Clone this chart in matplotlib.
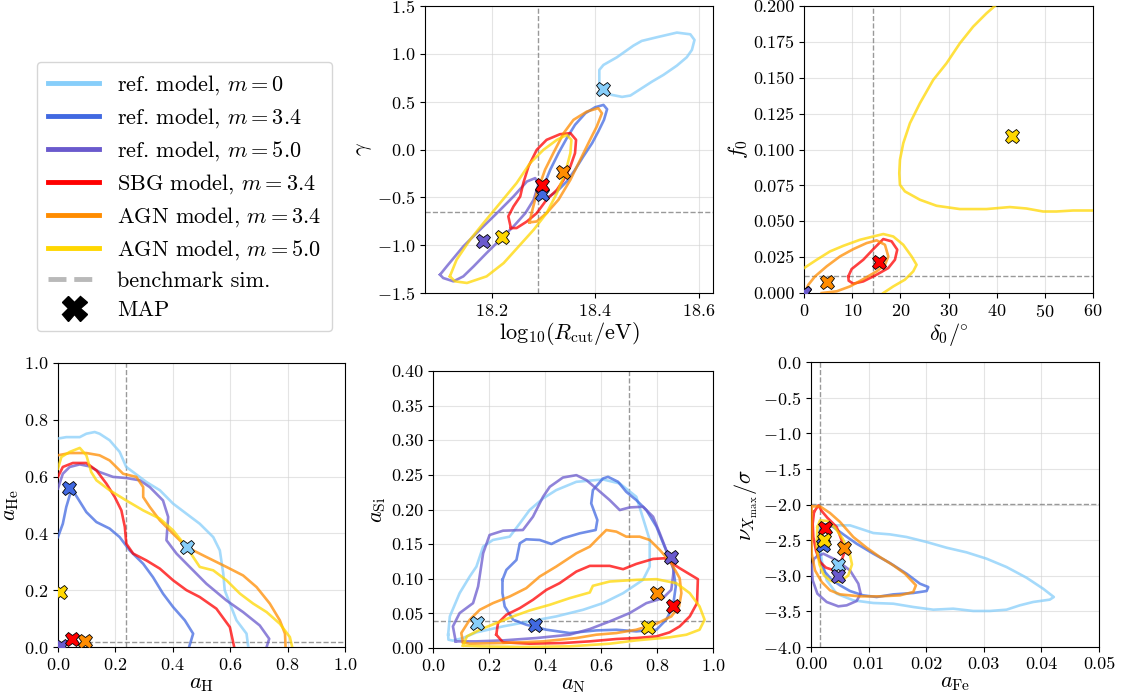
import numpy as np
import matplotlib
matplotlib.use("Agg")
from matplotlib import pyplot as plt
from matplotlib.lines import Line2D

plt.rcParams['font.family'] = 'serif'
plt.rcParams['font.serif'] = ['cmr10']
plt.rcParams['mathtext.fontset'] = 'cm'
plt.rcParams['axes.formatter.use_mathtext'] = True
plt.rcParams['xtick.labelsize'] = 13
plt.rcParams['ytick.labelsize'] = 13
plt.rcParams['axes.labelsize'] = 16

# series: ref m=0, ref m=3.4, ref m=5.0, SBG m=3.4, AGN m=3.4, AGN m=5.0
labels = ["ref. model, $m = 0$", "ref. model, $m = 3.4$", "ref. model, $m = 5.0$",
          "SBG model, $m = 3.4$", "AGN model, $m = 3.4$", "AGN model, $m = 5.0$"]
colors = ["lightskyblue", "royalblue", "slateblue", "red", "darkorange", "gold"]

# benchmark simulation values
bench_rcut, bench_gamma = 18.290, -0.654
bench_delta, bench_f0 = 14.24, 0.0118
bench_aH, bench_aHe = 0.238, 0.0176
bench_aN, bench_aSi = 0.700, 0.0394
bench_aFe, bench_nu = 0.00156, -1.988

# MAP points (same series order)
map_rcut = [18.416, 18.297, 18.184, 18.298, 18.337, 18.220]
map_gamma = [0.630, -0.466, -0.957, -0.376, -0.237, -0.919]
map_delta = [0.0, 0.0, 0.0, 15.48, 4.70, 43.13]
map_f0 = [0.0, 0.0, 0.0, 0.0216, 0.0079, 0.1097]
map_aH = [0.451, 0.037, 0.010, 0.050, 0.093, 0.006]
map_aHe = [0.352, 0.561, 0.005, 0.027, 0.020, 0.194]
map_aN = [0.157, 0.363, 0.851, 0.857, 0.800, 0.769]
map_aSi = [0.036, 0.0336, 0.131, 0.061, 0.0792, 0.030]
map_aFe = [0.00474, 0.00202, 0.00474, 0.00243, 0.00578, 0.00225]
map_nu = [-2.854, -2.573, -3.003, -2.330, -2.610, -2.503]

# 68% contours, log10(Rcut) vs gamma
rg_ref0 = [(18.416, 0.606), (18.408, 0.675), (18.408, 0.832), (18.416, 0.884), (18.442, 0.964),
           (18.474, 1.086), (18.490, 1.135), (18.519, 1.173), (18.558, 1.222), (18.584, 1.204),
           (18.592, 1.145), (18.587, 1.041), (18.577, 0.964), (18.558, 0.877), (18.532, 0.780),
           (18.510, 0.710), (18.487, 0.630), (18.468, 0.564), (18.452, 0.550), (18.432, 0.571)]
rg_ref34 = [(18.294, -0.491), (18.300, -0.386), (18.313, -0.212), (18.329, -0.038), (18.345, 0.118),
            (18.361, 0.258), (18.381, 0.379), (18.400, 0.442), (18.416, 0.466), (18.423, 0.421),
            (18.417, 0.310), (18.406, 0.188), (18.394, 0.066), (18.377, -0.073), (18.361, -0.212),
            (18.345, -0.334), (18.326, -0.438), (18.306, -0.508)]
rg_ref50 = [(18.100, -1.308), (18.113, -1.221), (18.145, -1.013), (18.177, -0.839), (18.210, -0.665),
            (18.242, -0.491), (18.268, -0.334), (18.284, -0.299), (18.290, -0.369), (18.281, -0.525),
            (18.265, -0.665), (18.242, -0.804), (18.216, -0.943), (18.190, -1.082), (18.165, -1.221),
            (18.145, -1.326), (18.126, -1.378), (18.106, -1.343)]
rg_sbg = [(18.237, -0.821), (18.232, -0.699), (18.242, -0.595), (18.255, -0.491), (18.261, -0.351),
          (18.271, -0.177), (18.287, -0.003), (18.306, 0.101), (18.332, 0.160), (18.352, 0.171),
          (18.363, 0.101), (18.361, -0.038), (18.352, -0.177), (18.339, -0.317), (18.326, -0.421),
          (18.306, -0.525), (18.287, -0.665), (18.268, -0.752), (18.248, -0.821)]
rg_agn34 = [(18.273, -0.762), (18.277, -0.665), (18.287, -0.456), (18.303, -0.212), (18.319, -0.038),
            (18.339, 0.171), (18.358, 0.310), (18.384, 0.397), (18.406, 0.432), (18.413, 0.379),
            (18.403, 0.240), (18.390, 0.101), (18.371, -0.108), (18.352, -0.317), (18.329, -0.525),
            (18.306, -0.665), (18.287, -0.752)]
rg_agn50 = [(18.119, -1.326), (18.132, -1.152), (18.158, -0.943), (18.184, -0.769), (18.216, -0.560),
            (18.248, -0.351), (18.274, -0.143), (18.300, -0.003), (18.326, 0.101), (18.345, 0.153),
            (18.354, 0.101), (18.352, -0.038), (18.342, -0.247), (18.326, -0.456), (18.306, -0.665),
            (18.281, -0.839), (18.252, -1.013), (18.223, -1.187), (18.190, -1.326), (18.152, -1.395),
            (18.129, -1.378)]

# delta0 vs f0
df_sbg = [(9.19, 0.0116), (9.88, 0.0167), (12.30, 0.0232), (14.38, 0.0306), (16.45, 0.0376),
          (18.18, 0.0360), (19.35, 0.0302), (18.87, 0.0232), (17.49, 0.0174), (15.07, 0.0128),
          (12.30, 0.0081), (10.23, 0.0065), (9.26, 0.0086)]
df_agn34 = [(0.14, 0.0005), (0.90, 0.0058), (2.28, 0.0116), (4.70, 0.0186), (7.46, 0.0255),
            (10.23, 0.0306), (12.99, 0.0348), (15.07, 0.0367), (16.80, 0.0336), (17.49, 0.0255),
            (16.80, 0.0197), (15.07, 0.0151), (12.30, 0.0097), (9.54, 0.0046), (6.77, 0.0012),
            (3.66, 0.0)]
df_agn50_a = [(39.61, 0.200), (37.88, 0.1949), (35.11, 0.1856), (32.35, 0.1740), (29.58, 0.1601),
              (26.82, 0.1485), (24.05, 0.1322), (21.98, 0.1183), (20.60, 0.1044), (19.91, 0.0928),
              (19.77, 0.0835), (19.91, 0.0754), (20.94, 0.0708), (24.05, 0.0650), (27.51, 0.0608),
              (32.35, 0.0585), (37.88, 0.0585), (42.72, 0.0599), (46.17, 0.0589), (49.63, 0.0568),
              (52.39, 0.0568), (55.85, 0.0575), (60.00, 0.0575)]
df_agn50_b = [(0.0, 0.0174), (2.63, 0.0232), (5.39, 0.0290), (8.16, 0.0329), (11.61, 0.0371),
              (14.38, 0.0394), (16.45, 0.0411), (18.52, 0.0394), (20.60, 0.0336), (22.33, 0.0255),
              (23.36, 0.0197), (22.67, 0.0151), (20.94, 0.0093), (18.52, 0.0046), (16.45, 0.0)]

# a_H vs a_He
hh_ref0 = [(0, 0.734), (0.029, 0.739), (0.076, 0.739), (0.099, 0.751), (0.128, 0.757), (0.145, 0.751),
           (0.180, 0.728), (0.215, 0.687), (0.238, 0.634), (0.262, 0.616), (0.308, 0.581),
           (0.355, 0.552), (0.401, 0.505), (0.448, 0.469), (0.494, 0.434), (0.541, 0.387),
           (0.564, 0.340), (0.576, 0.258), (0.581, 0.200), (0.599, 0.153), (0.622, 0.094),
           (0.657, 0.047), (0.663, 0.0)]
hh_ref34 = [(0, 0.387), (0.017, 0.434), (0.029, 0.493), (0.041, 0.534), (0.050, 0.554), (0.070, 0.522),
            (0.099, 0.475), (0.134, 0.440), (0.180, 0.417), (0.215, 0.387), (0.250, 0.340),
            (0.297, 0.293), (0.331, 0.246), (0.366, 0.188), (0.401, 0.141), (0.442, 0.094),
            (0.471, 0.047), (0.457, 0.0)]
hh_ref50 = [(0, 0.558), (0.017, 0.610), (0.041, 0.634), (0.076, 0.643), (0.110, 0.636), (0.145, 0.616),
            (0.192, 0.599), (0.238, 0.595), (0.285, 0.587), (0.320, 0.563), (0.366, 0.516),
            (0.384, 0.458), (0.378, 0.376), (0.413, 0.329), (0.459, 0.282), (0.517, 0.223),
            (0.587, 0.164), (0.645, 0.123), (0.703, 0.076), (0.736, 0.029), (0.727, 0.0)]
hh_sbg = [(0, 0.599), (0.017, 0.634), (0.052, 0.648), (0.099, 0.648), (0.134, 0.622), (0.169, 0.575),
          (0.198, 0.528), (0.221, 0.481), (0.233, 0.423), (0.238, 0.364), (0.262, 0.329),
          (0.308, 0.305), (0.355, 0.276), (0.401, 0.235), (0.448, 0.200), (0.494, 0.176),
          (0.552, 0.135), (0.599, 0.070), (0.614, 0.0)]
hh_agn34 = [(0, 0.675), (0.041, 0.683), (0.099, 0.683), (0.145, 0.675), (0.180, 0.657), (0.227, 0.610),
            (0.273, 0.599), (0.297, 0.563), (0.297, 0.528), (0.320, 0.493), (0.355, 0.446),
            (0.401, 0.399), (0.448, 0.352), (0.517, 0.317), (0.587, 0.282), (0.645, 0.252),
            (0.692, 0.211), (0.738, 0.153), (0.773, 0.094), (0.791, 0.047), (0.793, 0.0)]
hh_agn50 = [(0, 0.628), (0.012, 0.669), (0.041, 0.687), (0.076, 0.701), (0.099, 0.675), (0.116, 0.616),
            (0.134, 0.587), (0.180, 0.552), (0.238, 0.516), (0.297, 0.481), (0.355, 0.452),
            (0.401, 0.411), (0.448, 0.352), (0.494, 0.282), (0.541, 0.270), (0.587, 0.235),
            (0.634, 0.188), (0.680, 0.153), (0.727, 0.123), (0.773, 0.082), (0.808, 0.035),
            (0.816, 0.0)]

# a_N vs a_Si
ns_ref0 = [(0.054, 0.0192), (0.060, 0.0456), (0.095, 0.0792), (0.131, 0.1032), (0.155, 0.1176),
           (0.179, 0.1464), (0.214, 0.1560), (0.274, 0.1608), (0.310, 0.1800), (0.345, 0.1992),
           (0.393, 0.2160), (0.440, 0.2280), (0.512, 0.2400), (0.607, 0.2434), (0.667, 0.2376),
           (0.726, 0.2184), (0.752, 0.1848), (0.774, 0.1560), (0.774, 0.1176), (0.750, 0.0984),
           (0.679, 0.0792), (0.607, 0.0648), (0.536, 0.0552), (0.440, 0.0456), (0.345, 0.0384),
           (0.250, 0.0312), (0.155, 0.0226), (0.107, 0.0144), (0.071, 0.0106), (0.055, 0.0120)]
ns_ref34 = [(0.248, 0.0984), (0.262, 0.1128), (0.298, 0.1272), (0.310, 0.1512), (0.333, 0.1570),
            (0.381, 0.1560), (0.423, 0.1502), (0.464, 0.1584), (0.524, 0.1656), (0.581, 0.1704),
            (0.587, 0.1848), (0.565, 0.2088), (0.571, 0.2280), (0.607, 0.2448), (0.625, 0.2472),
            (0.661, 0.2400), (0.690, 0.2256), (0.726, 0.2136), (0.762, 0.1992), (0.798, 0.1752),
            (0.827, 0.1464), (0.857, 0.1176), (0.867, 0.0888), (0.857, 0.0600), (0.833, 0.0408),
            (0.798, 0.0264), (0.726, 0.0240), (0.655, 0.0264), (0.583, 0.0254), (0.488, 0.0216),
            (0.405, 0.0264), (0.333, 0.0336), (0.286, 0.0408), (0.256, 0.0600), (0.248, 0.0792)]
ns_ref50 = [(0.081, 0.0096), (0.071, 0.0312), (0.095, 0.0504), (0.143, 0.0648), (0.161, 0.0888),
            (0.179, 0.1368), (0.202, 0.1632), (0.250, 0.1694), (0.321, 0.1704), (0.357, 0.1896),
            (0.393, 0.2184), (0.417, 0.2328), (0.464, 0.2462), (0.512, 0.2496), (0.548, 0.2424),
            (0.583, 0.2304), (0.631, 0.2136), (0.667, 0.1992), (0.702, 0.2030), (0.750, 0.2040),
            (0.786, 0.1896), (0.810, 0.1656), (0.833, 0.1416), (0.860, 0.1128), (0.851, 0.0840),
            (0.821, 0.0720), (0.762, 0.0648), (0.702, 0.0504), (0.631, 0.0384), (0.560, 0.0274),
            (0.488, 0.0192), (0.369, 0.0144), (0.250, 0.0110), (0.155, 0.0096)]
ns_sbg = [(0.226, 0.0192), (0.232, 0.0360), (0.262, 0.0480), (0.310, 0.0576), (0.357, 0.0696),
          (0.405, 0.0840), (0.452, 0.0936), (0.512, 0.1104), (0.560, 0.1186), (0.631, 0.1186),
          (0.679, 0.1138), (0.726, 0.1214), (0.786, 0.1286), (0.827, 0.1296), (0.881, 0.1152),
          (0.946, 0.0994), (0.943, 0.0648), (0.917, 0.0456), (0.881, 0.0312), (0.845, 0.0226),
          (0.798, 0.0168), (0.726, 0.0144), (0.655, 0.0130), (0.560, 0.0096), (0.464, 0.0072),
          (0.345, 0.0062), (0.250, 0.0082)]
ns_agn34 = [(0.107, 0.0082), (0.101, 0.0216), (0.131, 0.0408), (0.167, 0.0552), (0.214, 0.0648),
            (0.274, 0.0744), (0.333, 0.0864), (0.381, 0.1032), (0.440, 0.1176), (0.512, 0.1368),
            (0.560, 0.1464), (0.595, 0.1608), (0.619, 0.1704), (0.655, 0.1680), (0.690, 0.1608),
            (0.738, 0.1608), (0.774, 0.1560), (0.810, 0.1416), (0.851, 0.1224), (0.881, 0.1008),
            (0.887, 0.0792), (0.879, 0.0600), (0.851, 0.0456), (0.798, 0.0350), (0.726, 0.0264),
            (0.655, 0.0216), (0.583, 0.0192), (0.512, 0.0144), (0.393, 0.0096), (0.250, 0.0072),
            (0.131, 0.0062)]
ns_agn50 = [(0.107, 0.0034), (0.121, 0.0168), (0.167, 0.0264), (0.226, 0.0360), (0.286, 0.0456),
            (0.345, 0.0542), (0.417, 0.0624), (0.488, 0.0720), (0.560, 0.0802), (0.571, 0.0898),
            (0.631, 0.0960), (0.726, 0.0984), (0.798, 0.0994), (0.869, 0.0936), (0.917, 0.0792),
            (0.952, 0.0600), (0.970, 0.0408), (0.952, 0.0264), (0.905, 0.0192), (0.845, 0.0154),
            (0.726, 0.0110), (0.631, 0.0062), (0.488, 0.0024), (0.310, 0.0014), (0.167, 0.0024)]

# a_Fe vs nu_Xmax
fn_ref0 = [(0.00156, -2.316), (0.00387, -2.292), (0.00676, -2.292), (0.00907, -2.353), (0.01081, -2.400),
           (0.01370, -2.419), (0.01659, -2.456), (0.02006, -2.526), (0.02352, -2.606), (0.02699, -2.671),
           (0.03046, -2.760), (0.03393, -2.877), (0.03740, -3.027), (0.04028, -3.181), (0.04214, -3.298),
           (0.04144, -3.335), (0.03855, -3.368), (0.03624, -3.415), (0.03393, -3.476), (0.03104, -3.494),
           (0.02815, -3.494), (0.02468, -3.462), (0.02121, -3.476), (0.01774, -3.438), (0.01428, -3.392),
           (0.01081, -3.382), (0.00734, -3.345), (0.00445, -3.251), (0.00272, -3.064), (0.00185, -2.783),
           (0.00145, -2.503)]
fn_ref34 = [(0.00127, -2.550), (0.00156, -2.362), (0.00260, -2.278), (0.00387, -2.316), (0.00561, -2.419),
            (0.00792, -2.550), (0.01081, -2.690), (0.01370, -2.821), (0.01659, -2.971), (0.01890, -3.111),
            (0.02035, -3.158), (0.02006, -3.214), (0.01774, -3.242), (0.01428, -3.261), (0.01139, -3.298),
            (0.00907, -3.275), (0.00676, -3.214), (0.00503, -3.134), (0.00358, -3.055), (0.00243, -2.947),
            (0.00156, -2.783), (0.00127, -2.643)]
fn_ref50 = [(0.00110, -2.727), (0.00214, -2.690), (0.00445, -2.783), (0.00676, -2.924), (0.00821, -3.111),
            (0.00861, -3.251), (0.00792, -3.354), (0.00618, -3.415), (0.00474, -3.429), (0.00272, -3.368),
            (0.00110, -3.251), (0.00029, -3.064), (0.00012, -2.877), (0.00052, -2.760)]
fn_sbg = [(0.00052, -2.105), (0.00127, -2.012), (0.00185, -2.091), (0.00283, -2.185), (0.00445, -2.316),
          (0.00532, -2.503), (0.00572, -2.690), (0.00503, -2.840), (0.00399, -2.924), (0.00260, -2.886),
          (0.00156, -2.807), (0.00087, -2.652), (0.00040, -2.456), (0.00029, -2.269)]
fn_agn34 = [(0.00012, -2.026), (0.00156, -2.026), (0.00329, -2.119), (0.00503, -2.245), (0.00734, -2.456),
            (0.00965, -2.606), (0.01196, -2.737), (0.01428, -2.854), (0.01630, -2.971), (0.01821, -3.134),
            (0.01774, -3.228), (0.01543, -3.275), (0.01196, -3.289), (0.00850, -3.289), (0.00503, -3.261),
            (0.00329, -3.204), (0.00185, -3.087), (0.00069, -2.924), (0.00012, -2.690), (0.00012, -2.316)]
fn_agn50 = [(0.00110, -2.316), (0.00156, -2.222), (0.00283, -2.231), (0.00416, -2.325), (0.00549, -2.479),
            (0.00665, -2.666), (0.00711, -2.840), (0.00647, -2.994), (0.00503, -3.087), (0.00341, -3.073),
            (0.00225, -2.994), (0.00145, -2.840), (0.00098, -2.596)]


def draw(ax, pts, color, closed=True):
    p = np.array(pts)
    if closed:
        p = np.vstack([p, p[:1]])
    ax.plot(p[:, 0], p[:, 1], color=color, lw=1.9, alpha=0.75, zorder=3)


def style(ax, xlim, ylim, xlabel, ylabel, bx, by):
    ax.set_xlim(*xlim)
    ax.set_ylim(*ylim)
    ax.set_xlabel(xlabel, labelpad=1)
    ax.set_ylabel(ylabel, labelpad=2)
    ax.grid(color='lightgray', alpha=0.6, lw=0.8)
    ax.set_axisbelow(True)
    ax.axvline(bx, color='gray', ls='--', lw=1, alpha=0.8, zorder=2)
    ax.axhline(by, color='gray', ls='--', lw=1, alpha=0.8, zorder=2)


def maps(ax, xs, ys):
    for x, y, c in zip(xs, ys, colors):
        ax.plot(x, y, marker='X', ms=10.5, mfc=c, mec='black', mew=0.6, ls='none', zorder=5)


fig = plt.figure(figsize=(11.23, 6.97), dpi=100)

ax1 = fig.add_axes([0.3785, 0.5796, 0.2565, 0.4118])
for pts, c in zip([rg_ref0, rg_ref34, rg_ref50, rg_sbg, rg_agn34, rg_agn50], colors):
    draw(ax1, pts, c)
style(ax1, (18.071, 18.628), (-1.5, 1.5), r"$\mathrm{log}_{10}(R_\mathrm{cut}/\mathrm{eV})$", r"$\gamma$",
      bench_rcut, bench_gamma)
ax1.set_xticks([18.2, 18.4, 18.6])
ax1.set_yticks(np.arange(-1.5, 1.51, 0.5))
maps(ax1, map_rcut, map_gamma)

ax2 = fig.add_axes([0.716, 0.5796, 0.2573, 0.4118])
draw(ax2, df_sbg, colors[3])
draw(ax2, df_agn34, colors[4], closed=False)
draw(ax2, df_agn50_a, colors[5], closed=False)
draw(ax2, df_agn50_b, colors[5], closed=False)
style(ax2, (0, 60), (0, 0.2), r"$\delta_0/\!^\circ$", r"$f_0$", bench_delta, bench_f0)
ax2.set_xticks(np.arange(0, 61, 10))
ax2.set_yticks(np.arange(0, 0.201, 0.025))
ax2.yaxis.set_major_formatter(matplotlib.ticker.FormatStrFormatter('%.3f'))
maps(ax2, map_delta, map_f0)

ax3 = fig.add_axes([0.0516, 0.0717, 0.2556, 0.4075])
for pts, c in zip([hh_ref0, hh_ref34, hh_ref50, hh_sbg, hh_agn34, hh_agn50], colors):
    draw(ax3, pts, c, closed=False)
style(ax3, (0, 1), (0, 1), r"$a_\mathrm{H}$", r"$a_\mathrm{He}$", bench_aH, bench_aHe)
ax3.set_xticks(np.arange(0, 1.01, 0.2))
ax3.set_yticks(np.arange(0, 1.01, 0.2))
maps(ax3, map_aH, map_aHe)

ax4 = fig.add_axes([0.3856, 0.0703, 0.2493, 0.3974])
for pts, c in zip([ns_ref0, ns_ref34, ns_ref50, ns_sbg, ns_agn34, ns_agn50], colors):
    draw(ax4, pts, c)
style(ax4, (0, 1), (0, 0.4), r"$a_\mathrm{N}$", r"$a_\mathrm{Si}$", bench_aN, bench_aSi)
ax4.set_xticks(np.arange(0, 1.01, 0.2))
ax4.set_yticks(np.arange(0, 0.401, 0.05))
ax4.yaxis.set_major_formatter(matplotlib.ticker.FormatStrFormatter('%.2f'))
maps(ax4, map_aN, map_aSi)

ax5 = fig.add_axes([0.7222, 0.0717, 0.2565, 0.4089])
for pts, c in zip([fn_ref0, fn_ref34, fn_ref50, fn_sbg, fn_agn34, fn_agn50], colors):
    draw(ax5, pts, c)
style(ax5, (0, 0.05), (-4, 0), r"$a_\mathrm{Fe}$", r"$\nu_{X_\mathrm{max}}/\sigma$", bench_aFe, bench_nu)
ax5.set_xticks(np.arange(0, 0.051, 0.01))
ax5.set_yticks(np.arange(-4, 0.01, 0.5))
ax5.xaxis.set_major_formatter(matplotlib.ticker.FormatStrFormatter('%.2f'))
maps(ax5, map_aFe, map_nu)

handles = [Line2D([], [], color=c, lw=3.5) for c in colors]
handles.append(Line2D([], [], color='gray', alpha=0.55, lw=3.5, ls='--'))
handles.append(Line2D([], [], marker='X', color='black', ms=18, ls='none'))
fig.legend(handles, labels + ["benchmark sim.", "MAP"], loc='upper left',
           bbox_to_anchor=(0.0329, 0.911), borderaxespad=0, fontsize=16, handlelength=2.3,
           labelspacing=0.42, borderpad=0.5, frameon=True, edgecolor='#cccccc')

fig.savefig("out.png", dpi=100)
